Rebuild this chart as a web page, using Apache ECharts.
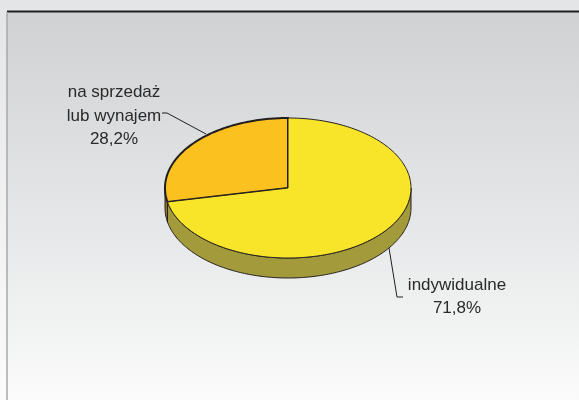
<!DOCTYPE html>
<html>
<head>
<meta charset="utf-8">
<script src="https://cdn.jsdelivr.net/npm/echarts@6/dist/echarts.min.js"></script>
<style>
  html, body { margin: 0; padding: 0; background: #fff; }
  #chart { width: 579px; height: 400px; }
</style>
</head>
<body>
<div id="chart"></div>
<script>
// data
const categories = ['na sprzedaż\nlub wynajem', 'indywidualne'];
const shares = [28.2, 71.8];

// look
const topColors = ['#fbc21f', '#f8e52a'];
const sideColors = ['#9c7a1a', '#a29a3b'];
const outlineWidths = [2, 1];
const ink = '#231f20';

// 3D ellipse geometry
const cx = 288, cy = 188, rx = 123, ry = 70, depth = 20;
// label placement (text centre + leader line)
const labelLayout = [
  { x: 114, y: 116, line: [[162, 113], [167, 113], [206, 134]] },
  { x: 457, y: 297, line: [[389, 248], [397, 297], [403, 297]] }
];

const pctText = v => v.toFixed(1).replace('.', ',') + '%';

// slice angles, starting at 12 o'clock and running counterclockwise
const angles = [];
let acc = 90;
shares.forEach(v => {
  const a1 = acc, a2 = acc + v / 100 * 360;
  angles.push([a1, a2]);
  acc = a2;
});

function pt(deg, dy) {
  const r = deg * Math.PI / 180;
  return [cx + rx * Math.cos(r), cy - ry * Math.sin(r) + (dy || 0)];
}
function arc(a1, a2, dy) {
  const pts = [];
  const n = Math.max(2, Math.ceil(Math.abs(a2 - a1)));
  for (let i = 0; i <= n; i++) pts.push(pt(a1 + (a2 - a1) * i / n, dy));
  return pts;
}

const chart = echarts.init(document.getElementById('chart'));

const option = {
  animation: false,
  graphic: [
    { type: 'rect', shape: { x: 0, y: 0, width: 579, height: 400 }, silent: true, z: -10,
      style: { fill: new echarts.graphic.LinearGradient(0, 0, 0, 1, [
        { offset: 0, color: '#e4e5e7' }, { offset: 1, color: '#fbfbfb' }]) } },
    { type: 'rect', shape: { x: 7, y: 11, width: 572, height: 389 }, silent: true, z: -9,
      style: { fill: new echarts.graphic.LinearGradient(0, 0, 0, 1, [
        { offset: 0, color: '#d0d1d3' }, { offset: 0.55, color: '#e6e7e8' }, { offset: 1, color: '#fafbfa' }]) } },
    { type: 'line', shape: { x1: 7, y1: 11.5, x2: 579, y2: 11.5 }, silent: true, z: -8,
      style: { stroke: '#1e1e1e', lineWidth: 2 } },
    { type: 'line', shape: { x1: 7, y1: 12, x2: 7, y2: 400 }, silent: true, z: -8,
      style: { stroke: '#a9a9a9', lineWidth: 1.5 } }
  ],
  series: [
    {
      // visible side walls
      type: 'custom',
      coordinateSystem: 'none',
      silent: true,
      data: shares,
      renderItem: function (params) {
        const i = params.dataIndex;
        const [a1, a2] = angles[i];
        const children = [];
        [0, 360].forEach(k => {
          const s = Math.max(a1, 180 + k), e = Math.min(a2, 360 + k);
          if (e > s) {
            const pts = arc(s, e, 0).concat(arc(e, s, depth));
            children.push({ type: 'polygon', shape: { points: pts },
              style: { fill: sideColors[i], stroke: ink, lineWidth: 1 } });
          }
        });
        return { type: 'group', children: children };
      }
    },
    {
      // top faces
      type: 'custom',
      coordinateSystem: 'none',
      silent: true,
      data: shares,
      renderItem: function (params) {
        const i = params.dataIndex;
        const [a1, a2] = angles[i];
        const pts = [[cx, cy]].concat(arc(a1, a2, 0));
        return { type: 'polygon', shape: { points: pts },
          style: { fill: topColors[i], stroke: ink, lineWidth: outlineWidths[i], lineJoin: 'miter' } };
      }
    },
    {
      // labels and leader lines
      type: 'custom',
      coordinateSystem: 'none',
      silent: true,
      data: shares,
      z: 5,
      renderItem: function (params) {
        const i = params.dataIndex;
        const L = labelLayout[i];
        return {
          type: 'group',
          children: [
            { type: 'polyline', shape: { points: L.line },
              style: { stroke: ink, lineWidth: 1, fill: null } },
            { type: 'text', x: L.x, y: L.y,
              style: { text: categories[i] + '\n' + pctText(shares[i]),
                fill: '#2b2a2a', font: '17px "Liberation Sans", Arial, sans-serif',
                align: 'center', verticalAlign: 'middle', lineHeight: 23.5 } }
          ]
        };
      }
    }
  ]
};

chart.setOption(option);
</script>
</body>
</html>
